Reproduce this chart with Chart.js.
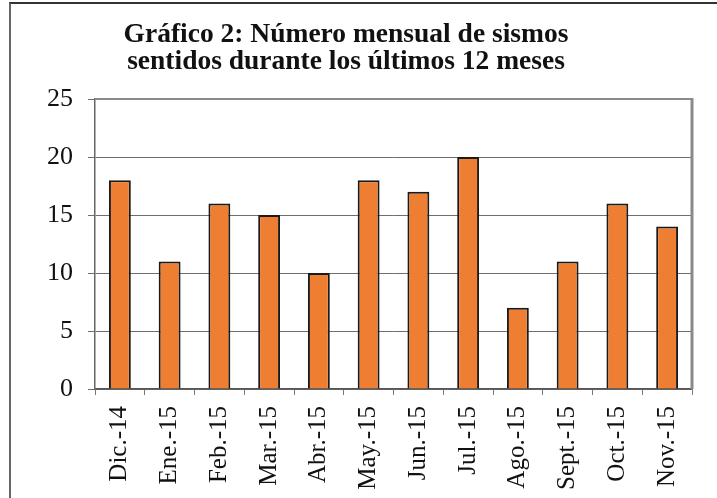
<!DOCTYPE html>
<html>
<head>
<meta charset="utf-8">
<script src="https://cdn.jsdelivr.net/npm/chart.js@4.4.1/dist/chart.umd.min.js"></script>
<style>
    html, body { margin: 0; padding: 0; background: #fff; }
    #wrap { position: relative; width: 717px; height: 498px; }
    #frame {
        position: absolute; left: 9px; top: 2px; right: 0; bottom: 0;
        border-top: 2px solid #333; border-left: 2px solid #666;
    }
    canvas { position: absolute; left: 0; top: 0; }
</style>
</head>
<body>
<div id="wrap">
    <div id="frame"></div>
    <canvas id="barChart" width="717" height="498"></canvas>
</div>
<script>
// datos del gráfico
const meses = ['Dic.-14', 'Ene.-15', 'Feb.-15', 'Mar.-15', 'Abr.-15', 'May.-15',
    'Jun.-15', 'Jul.-15', 'Ago.-15', 'Sept.-15', 'Oct.-15', 'Nov.-15'];
const sismos = [18, 11, 16, 15, 10, 18, 17, 20, 7, 11, 16, 14];
const yTicks = [0, 5, 10, 15, 20, 25];

const serif = "'Liberation Serif', 'Times New Roman', serif";

// borde gris del área del gráfico
const plotBorder = {
    id: 'plotBorder',
    afterDraw(chart) {
        const { ctx, chartArea: a } = chart;
        ctx.save();
        ctx.strokeStyle = '#8a8a8a';
        ctx.lineWidth = 2;
        ctx.beginPath();
        ctx.moveTo(a.left, a.top);
        ctx.lineTo(a.right, a.top);
        ctx.stroke();
        ctx.lineWidth = 3;
        ctx.beginPath();
        ctx.moveTo(a.right, a.top - 1);
        ctx.lineTo(a.right, a.bottom);
        ctx.stroke();
        ctx.restore();
    }
};

const ctx = document.getElementById('barChart').getContext('2d');
const chart = new Chart(ctx, {
    type: 'bar',
    data: {
        labels: meses,
        datasets: [{
            data: sismos,
            backgroundColor: '#ee7f32',
            borderColor: '#1a1a1a',
            borderWidth: 2,
            barPercentage: 0.44,
            categoryPercentage: 1
        }]
    },
    plugins: [plotBorder],
    options: {
        responsive: false,
        animation: false,
        layout: { padding: { left: 0, right: 25, top: 0, bottom: 0 } },
        plugins: {
            legend: { display: false },
            tooltip: { enabled: false },
            title: {
                display: true,
                text: ['Gráfico 2: Número mensual de sismos', 'sentidos durante los últimos 12 meses'],
                color: '#111',
                font: { family: serif, size: 27.5, weight: 'bold', lineHeight: 1 },
                padding: { top: 21, bottom: 23 }
            }
        },
        scales: {
            x: {
                offset: true,
                grid: {
                    offset: true,
                    drawOnChartArea: false,
                    drawTicks: true,
                    tickLength: 6,
                    color: '#777'
                },
                border: { color: '#555', width: 1.5 },
                ticks: {
                    minRotation: 90,
                    maxRotation: 90,
                    padding: 11,
                    color: '#111',
                    font: { family: serif, size: 25 }
                },
                afterFit(scale) { scale.height = 109; }
            },
            y: {
                min: 0,
                max: 25,
                afterBuildTicks(scale) { scale.ticks = yTicks.map(v => ({ value: v })); },
                grid: {
                    color: '#6e6e6e',
                    lineWidth: 1,
                    tickLength: 7
                },
                border: { color: '#666', width: 1.5 },
                ticks: {
                    padding: 15,
                    color: '#111',
                    font: { family: serif, size: 26 }
                },
                afterFit(scale) { scale.width = 95; }
            }
        }
    }
});
</script>
</body>
</html>
